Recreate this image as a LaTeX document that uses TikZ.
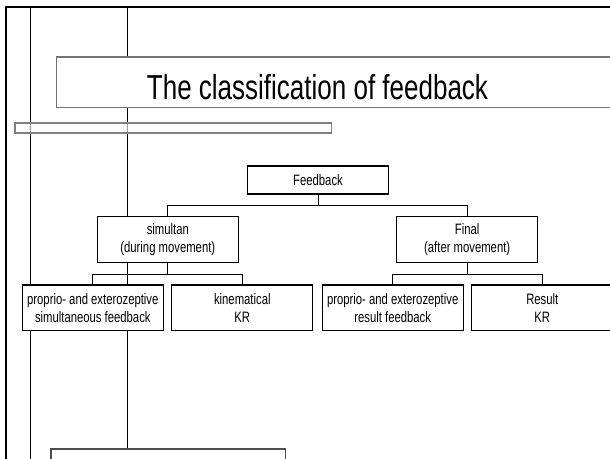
\documentclass[tikz,border=0pt]{standalone}
\usepackage{fontspec}
\setmainfont{Liberation Sans}[FakeStretch=0.75]
\begin{document}
\begin{tikzpicture}[x=0.75pt,y=-0.75pt,
  treebox/.style={draw=black,line width=0.8pt,fill=white,minimum width=105.75pt,inner sep=0pt,align=center,
    font=\fontsize{11.3}{13.5}\selectfont},
  conn/.style={draw=black,line width=0.75pt},
  guide/.style={draw=black,line width=0.75pt},
  frameline/.style={draw=black,line width=1.7pt}]
\useasboundingbox (0,0) rectangle (610,459);
\clip (0,0) rectangle (610,459);
% guide lines
\coordinate (v1top) at (30.7,7);
\coordinate (v1bot) at (30.7,470);
\coordinate (v2top) at (127.7,7);
\node[draw=black!70,line width=0.8pt,fill=white,minimum width=176pt,minimum height=24pt,inner sep=0pt] (bot) at (168.35,465) {};
\draw[guide] (v1top) -- (v1bot);
\draw[guide] (v2top) -- (v2top |- bot.north);
% frame
\coordinate (fbl) at (6,470);
\coordinate (ftl) at (6,7);
\coordinate (ftr) at (615,7);
\draw[frameline] (fbl) -- (ftl) -- (ftr);
% title
\node[draw=black!55,line width=1.1pt,fill=white,minimum width=435pt,minimum height=38pt,inner sep=0pt,anchor=west] (titlebox) at (56,82.35) {};
\node[anchor=base,inner sep=0pt,font=\fontsize{26}{30}\selectfont] (title) at (317.5,100) {The classification of feedback};
% bar
\node[draw=black!50,line width=0.8pt,fill=white,fill opacity=0.6,minimum width=237.4pt,minimum height=7.5pt,inner sep=0pt] (bar) at (173.25,128) {};
% tree
\node[treebox,minimum height=21pt] (fb) at (318,180) {Feedback};
\node[treebox,minimum height=34.5pt] (sim) at (167.8,239.7) {simultan\\(during movement)};
\node[treebox,minimum height=34.5pt] (fin) at (467.2,239.7) {Final\\(after movement)};
\node[treebox,minimum height=34.3pt] (a) at (92.8,307.85) {proprio- and exterozeptive\\simultaneous feedback};
\node[treebox,minimum height=34.3pt] (b) at (242.3,307.85) {kinematical\\KR};
\node[treebox,minimum height=34.3pt] (c) at (392.7,307.85) {proprio- and exterozeptive\\result feedback};
\node[treebox,minimum height=34.3pt] (d) at (542.3,307.85) {Result\\KR};
\draw[conn] (fb.south) -- ++(0,11) -| (sim.north);
\draw[conn] (fb.south) -- ++(0,11) -| (fin.north);
\draw[conn] (sim.south) -- ++(0,11.3) -| (a.north);
\draw[conn] (sim.south) -- ++(0,11.3) -| (b.north);
\draw[conn] (fin.south) -- ++(0,11.3) -| (c.north);
\draw[conn] (fin.south) -- ++(0,11.3) -| (d.north);
\end{tikzpicture}
\end{document}
